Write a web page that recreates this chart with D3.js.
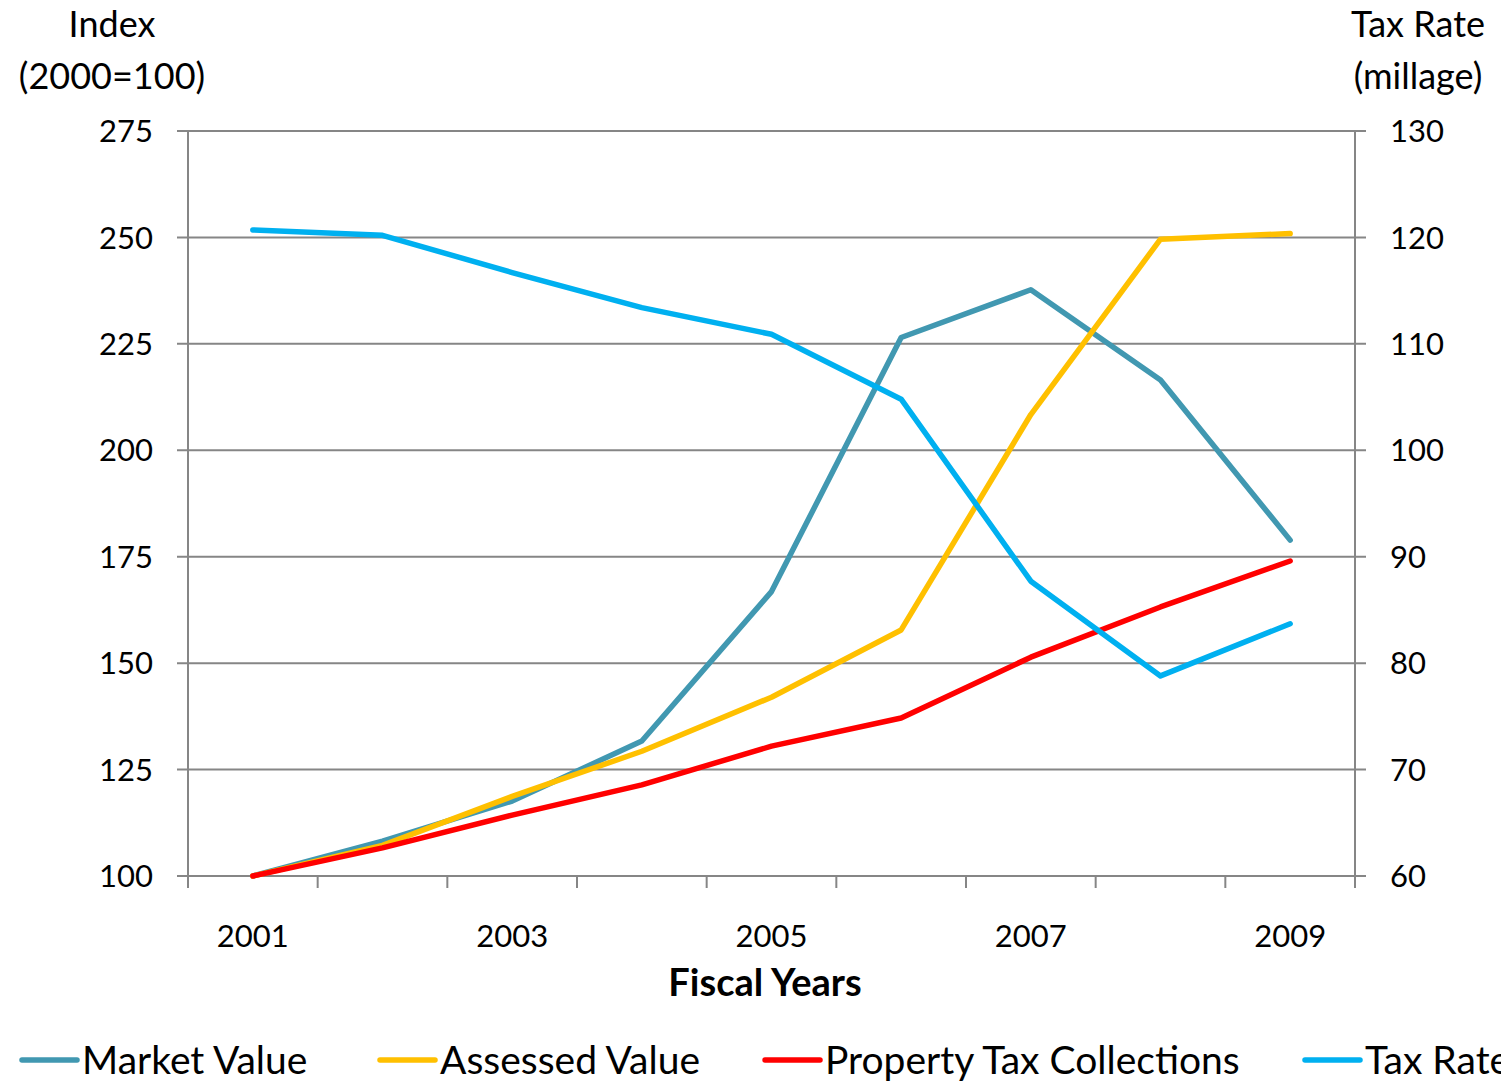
<!DOCTYPE html>
<html><head><meta charset="utf-8">
<script src="https://cdn.jsdelivr.net/npm/d3@7"></script>
<style>body{margin:0;background:#fff}svg{display:block}text{font-family:Lato,"Open Sans",sans-serif;fill:#000}</style>
</head><body><svg id="c" width="1501" height="1082"></svg>
<script>
const years = [2001,2002,2003,2004,2005,2006,2007,2008,2009];
const yearLabels = ["2001","","2003","","2005","","2007","","2009"];
const marketValue = [100,108.2,117.6,131.7,166.8,226.5,237.7,216.5,178.9];
const assessedValue = [100,107.2,118.7,129.3,142,157.8,208.4,249.6,250.9];
const propertyTax = [100,106.6,114.3,121.4,130.5,137.1,151.4,163.2,174];
const taxRate = [120.7,120.2,116.7,113.4,110.9,104.8,87.7,78.8,83.7];
const leftTicks = [100,125,150,175,200,225,250,275];
const rightTicks = [60,70,80,90,100,110,120,130];
const seriesNames = ["Market Value","Assessed Value","Property Tax Collections","Tax Rate"];
const seriesColors = ["#4198B1","#FFC000","#FF0000","#00B0F0"];

const svg = d3.select("#c");
const L=188,R=1355,T=131,B=876;
const x = d3.scaleBand().domain(years).range([L,R]);
const yL = d3.scaleLinear().domain([100,275]).range([B,T]);
const yR = d3.scaleLinear().domain([60,130]).range([B,T]);
const grid="#868686";

svg.append("g").selectAll("line").data(leftTicks).join("line")
  .attr("x1",L-11).attr("x2",R+11).attr("y1",d=>yL(d)).attr("y2",d=>yL(d))
  .attr("stroke",grid).attr("stroke-width",2);
[L,R].forEach(v=>svg.append("line").attr("x1",v).attr("x2",v).attr("y1",T).attr("y2",B+12).attr("stroke",grid).attr("stroke-width",2));
const bounds = years.map(d=>x(d)).concat([R]);
svg.append("g").selectAll("line").data(bounds).join("line")
  .attr("x1",d=>d).attr("x2",d=>d).attr("y1",B).attr("y2",B+12).attr("stroke",grid).attr("stroke-width",2);

const fs=31;
svg.append("g").selectAll("text").data(leftTicks).join("text")
  .attr("x",153).attr("y",d=>yL(d)).attr("dy","0.36em").attr("text-anchor","end")
  .attr("font-size",fs).text(d=>d);
svg.append("g").selectAll("text").data(rightTicks).join("text")
  .attr("x",1390).attr("y",d=>yR(d)).attr("dy","0.36em").attr("text-anchor","start")
  .attr("font-size",fs).text(d=>d);
svg.append("g").selectAll("text").data(years).join("text")
  .attr("x",d=>x(d)+x.bandwidth()/2).attr("y",947).attr("text-anchor","middle")
  .attr("font-size",fs).text((d,i)=>yearLabels[i]);

svg.append("text").attr("x",112).attr("y",37).attr("text-anchor","middle").attr("font-size",36).text("Index");
svg.append("text").attr("x",112).attr("y",89).attr("text-anchor","middle").attr("font-size",36).text("(2000=100)");
svg.append("text").attr("x",1418).attr("y",37).attr("text-anchor","middle").attr("font-size",36).text("Tax Rate");
svg.append("text").attr("x",1418).attr("y",89).attr("text-anchor","middle").attr("font-size",36).text("(millage)");
svg.append("text").attr("x",765).attr("y",996).attr("text-anchor","middle").attr("font-size",38).attr("font-weight","bold").text("Fiscal Years");

const cx = d=>x(d)+x.bandwidth()/2;
const data = [
  {v:marketValue,s:yL},{v:assessedValue,s:yL},{v:propertyTax,s:yL},{v:taxRate,s:yR}
];
data.forEach((ser,i)=>{
  const line = d3.line().x((d,j)=>cx(years[j])).y(d=>ser.s(d));
  svg.append("path").datum(ser.v).attr("d",line).attr("fill","none")
    .attr("stroke",seriesColors[i]).attr("stroke-width",5.5)
    .attr("stroke-linejoin","round").attr("stroke-linecap","round");
});

const legX=[22,380,765,1305];
const lg = svg.append("g").selectAll("g").data(seriesNames).join("g")
  .attr("transform",(d,i)=>`translate(${legX[i]},1060)`);
lg.append("line").attr("x1",0).attr("x2",55).attr("stroke",(d,i)=>seriesColors[i]).attr("stroke-width",5.5).attr("stroke-linecap","round");
lg.append("text").attr("x",60).attr("dy","0.36em").attr("font-size",39).text(d=>d);
</script></body></html>
